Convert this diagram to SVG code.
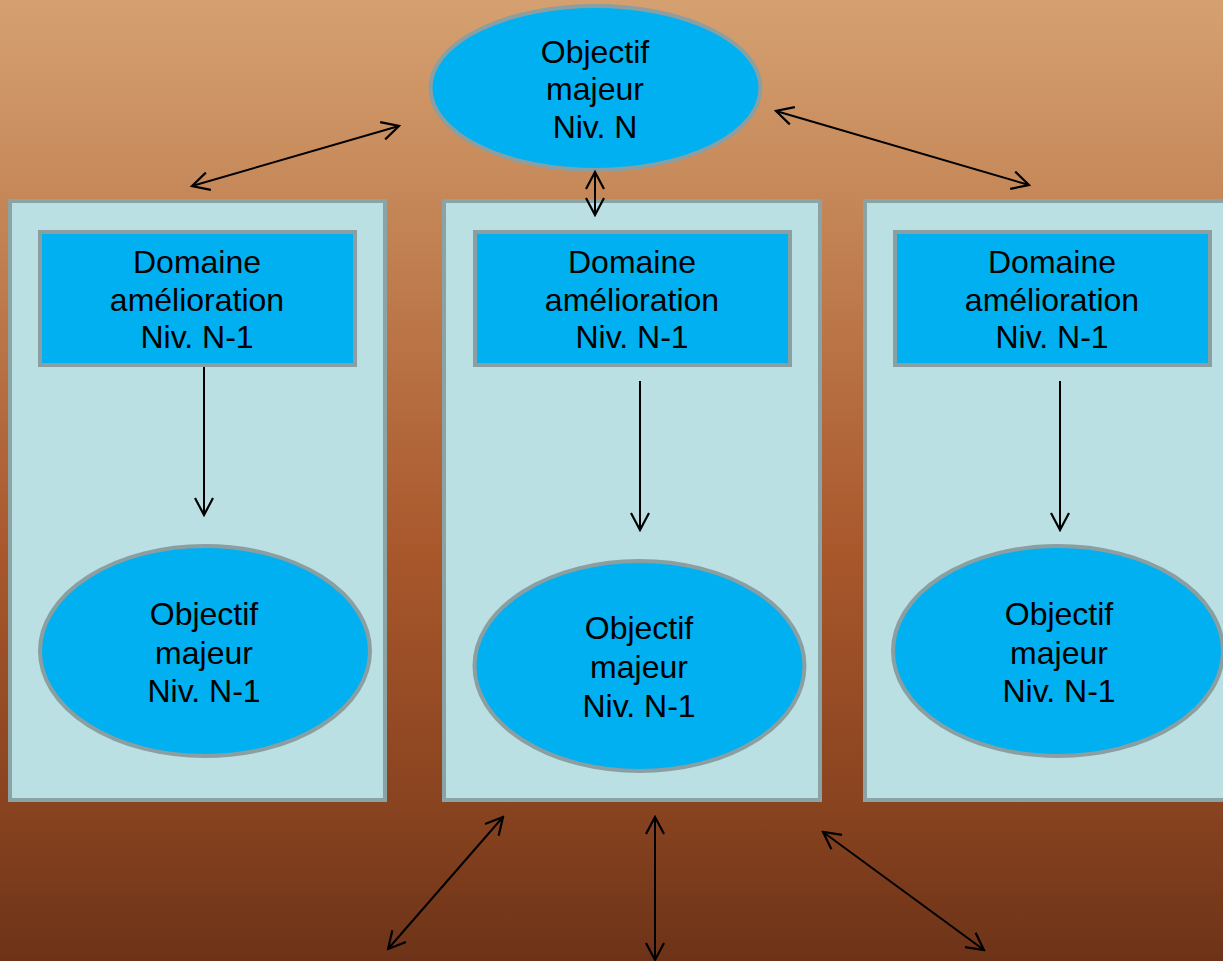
<svg xmlns="http://www.w3.org/2000/svg" width="1223" height="961" viewBox="0 0 1223 961">
<style>
.panel{fill:#BBE0E3;stroke:#8AA3A5;stroke-width:4}
.box{fill:#00B0F0;stroke:#8A9FA1;stroke-width:4}
.oval{fill:#00B0F0;stroke:#8A9FA1;stroke-width:4}
.t{font-family:"Liberation Sans",Arial,sans-serif;font-size:32px;fill:#000;text-anchor:middle}
.c{fill:none;stroke:#000;stroke-width:2}
</style>
<defs>
<linearGradient id="bg" x1="0" y1="0" x2="0" y2="1">
<stop offset="0" stop-color="#D5A070"/>
<stop offset="0.2" stop-color="#C68859"/>
<stop offset="0.58" stop-color="#A8572B"/>
<stop offset="0.83" stop-color="#8A4420"/>
<stop offset="1" stop-color="#6D3318"/>
</linearGradient>
<marker id="ah" viewBox="0 0 20 20" refX="18" refY="10" markerWidth="20" markerHeight="20" markerUnits="userSpaceOnUse" orient="auto-start-reverse">
<path d="M1,1 L18,10 L1,19" fill="none" stroke="#000" stroke-width="2.2"/>
</marker>
</defs>
<rect width="1223" height="961" fill="url(#bg)"/>

<g id="panel-left"><rect class="panel" x="10" y="201" width="375" height="599"/></g>
<g id="panel-mid"><rect class="panel" x="444" y="201" width="376" height="599"/></g>
<g id="panel-right"><rect class="panel" x="865" y="201" width="376" height="599"/></g>

<g id="obj-n">
<ellipse class="oval" cx="595.5" cy="88" rx="165" ry="82"/>
<text class="t" x="595" y="63">Objectif</text>
<text class="t" x="595" y="100">majeur</text>
<text class="t" x="595" y="138">Niv. N</text>
</g>

<g id="dom-left">
<rect class="box" x="40" y="232" width="315" height="133"/>
<text class="t" x="197" y="273">Domaine</text>
<text class="t" x="197" y="311">amélioration</text>
<text class="t" x="197" y="348">Niv. N-1</text>
</g>
<g id="dom-mid">
<rect class="box" x="475" y="232" width="315" height="133"/>
<text class="t" x="632" y="273">Domaine</text>
<text class="t" x="632" y="311">amélioration</text>
<text class="t" x="632" y="348">Niv. N-1</text>
</g>
<g id="dom-right">
<rect class="box" x="895" y="232" width="315" height="133"/>
<text class="t" x="1052" y="273">Domaine</text>
<text class="t" x="1052" y="311">amélioration</text>
<text class="t" x="1052" y="348">Niv. N-1</text>
</g>

<g id="obj-left">
<ellipse class="oval" cx="205" cy="651" rx="165" ry="105"/>
<text class="t" x="204" y="625">Objectif</text>
<text class="t" x="204" y="664">majeur</text>
<text class="t" x="204" y="702">Niv. N-1</text>
</g>
<g id="obj-mid">
<ellipse class="oval" cx="639.5" cy="666" rx="165" ry="105"/>
<text class="t" x="639" y="639">Objectif</text>
<text class="t" x="639" y="678">majeur</text>
<text class="t" x="639" y="717">Niv. N-1</text>
</g>
<g id="obj-right">
<ellipse class="oval" cx="1058" cy="651" rx="165" ry="105"/>
<text class="t" x="1059" y="625">Objectif</text>
<text class="t" x="1059" y="664">majeur</text>
<text class="t" x="1059" y="702">Niv. N-1</text>
</g>

<g id="connectors">
<line class="c" x1="192" y1="186" x2="399" y2="126" marker-start="url(#ah)" marker-end="url(#ah)" stroke-width="2.6"/>
<line class="c" x1="776" y1="111" x2="1029" y2="185" marker-start="url(#ah)" marker-end="url(#ah)" stroke-width="2.6"/>
<line class="c" x1="595" y1="172" x2="595" y2="215" marker-start="url(#ah)" marker-end="url(#ah)"/>
<line class="c" x1="204" y1="367" x2="204" y2="515" marker-end="url(#ah)"/>
<line class="c" x1="640" y1="381" x2="640" y2="530" marker-end="url(#ah)"/>
<line class="c" x1="1060" y1="381" x2="1060" y2="530" marker-end="url(#ah)"/>
<line class="c" x1="503" y1="817" x2="388" y2="949" marker-start="url(#ah)" marker-end="url(#ah)"/>
<line class="c" x1="655" y1="817" x2="655" y2="960" marker-start="url(#ah)" marker-end="url(#ah)"/>
<line class="c" x1="823" y1="832" x2="984" y2="950" marker-start="url(#ah)" marker-end="url(#ah)"/>
</g>
</svg>
